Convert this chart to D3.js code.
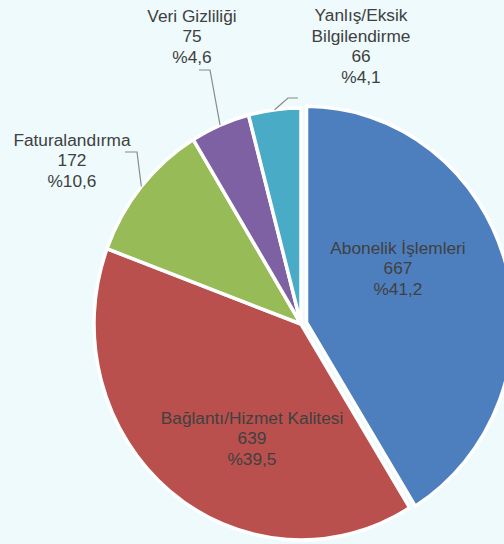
<!DOCTYPE html>
<html><head><meta charset="utf-8">
<script src="https://cdn.jsdelivr.net/npm/d3@7"></script>
<style>
html,body{margin:0;padding:0;background:#eefafc;}
svg{display:block;}
text{font-family:"Liberation Sans",Arial,sans-serif;font-size:17.3px;fill:#404040;}
</style></head>
<body><svg id="chart" width="504" height="544"></svg>
<script>
// Data
const categories = ["Abonelik İşlemleri","Bağlantı/Hizmet Kalitesi","Faturalandırma","Veri Gizliliği","Yanlış/Eksik Bilgilendirme"];
const labelLines = [["Abonelik İşlemleri"],["Bağlantı/Hizmet Kalitesi"],["Faturalandırma"],["Veri Gizliliği"],["Yanlış/Eksik","Bilgilendirme"]];
const values = [667, 639, 172, 75, 66];
const percentLabels = ["%41,2","%39,5","%10,6","%4,6","%4,1"];
const colors = ["#4d7fbf","#ba504d","#97bb57","#7e61a2","#49abc6"];

// Layout (positions relative to pie centre)
const cx = 301, cy = 324, ry = 216, rx = 207;
const explode = [6, 0, 0, 0, 0];
const labelCenters = [[97,-56],[-49,114],[-229,-164],[-109,-288],[60,-278]];
const leaders = [null, null, {elbow:[65,-8], end:[53,-8]}, {elbow:[18,34], end:[7,34]}, {elbow:[-73,52], end:[-63,52]}];
const lineH = 20.5;

const svg = d3.select("#chart");
const pie = d3.pie().sort(null).value(d => d)(values);
const arc = d3.arc().innerRadius(0).outerRadius(ry);
const sx = rx / ry;

const g = svg.append("g").attr("transform", `translate(${cx},${cy}) scale(${sx},1)`);
g.selectAll("path").data(pie).join("path")
  .attr("d", arc)
  .attr("fill", (d,i) => colors[i])
  .attr("stroke", "#ffffff")
  .attr("stroke-width", 3.5)
  .attr("vector-effect", "non-scaling-stroke")
  .attr("transform", (d,i) => {
    const a = (d.startAngle + d.endAngle) / 2;
    return `translate(${Math.sin(a)*explode[i]},${-Math.cos(a)*explode[i]})`;
  });

// Leader lines
pie.forEach((d,i) => {
  const L = leaders[i];
  if (!L) return;
  const a = (d.startAngle + d.endAngle) / 2;
  const ex = cx + Math.sin(a) * rx, ey = cy - Math.cos(a) * ry;
  const lc = labelCenters[i];
  const pts = [[cx+lc[0]+L.end[0], cy+lc[1]+L.end[1]], [cx+lc[0]+L.elbow[0], cy+lc[1]+L.elbow[1]], [ex, ey]];
  svg.append("path").attr("d", d3.line()(pts))
    .attr("fill","none").attr("stroke","#8a8a8a").attr("stroke-width",1.2);
});

// Labels
pie.forEach((d,i) => {
  const lines = labelLines[i].concat([String(values[i]), percentLabels[i]]);
  const lc = labelCenters[i];
  const x = cx + lc[0], y0 = cy + lc[1] - (lines.length-1)*lineH/2;
  const t = svg.append("text").attr("text-anchor","middle");
  lines.forEach((s,k) => {
    t.append("tspan").attr("x", x).attr("y", y0 + k*lineH).attr("dy","0.35em").text(s);
  });
});
</script></body></html>
